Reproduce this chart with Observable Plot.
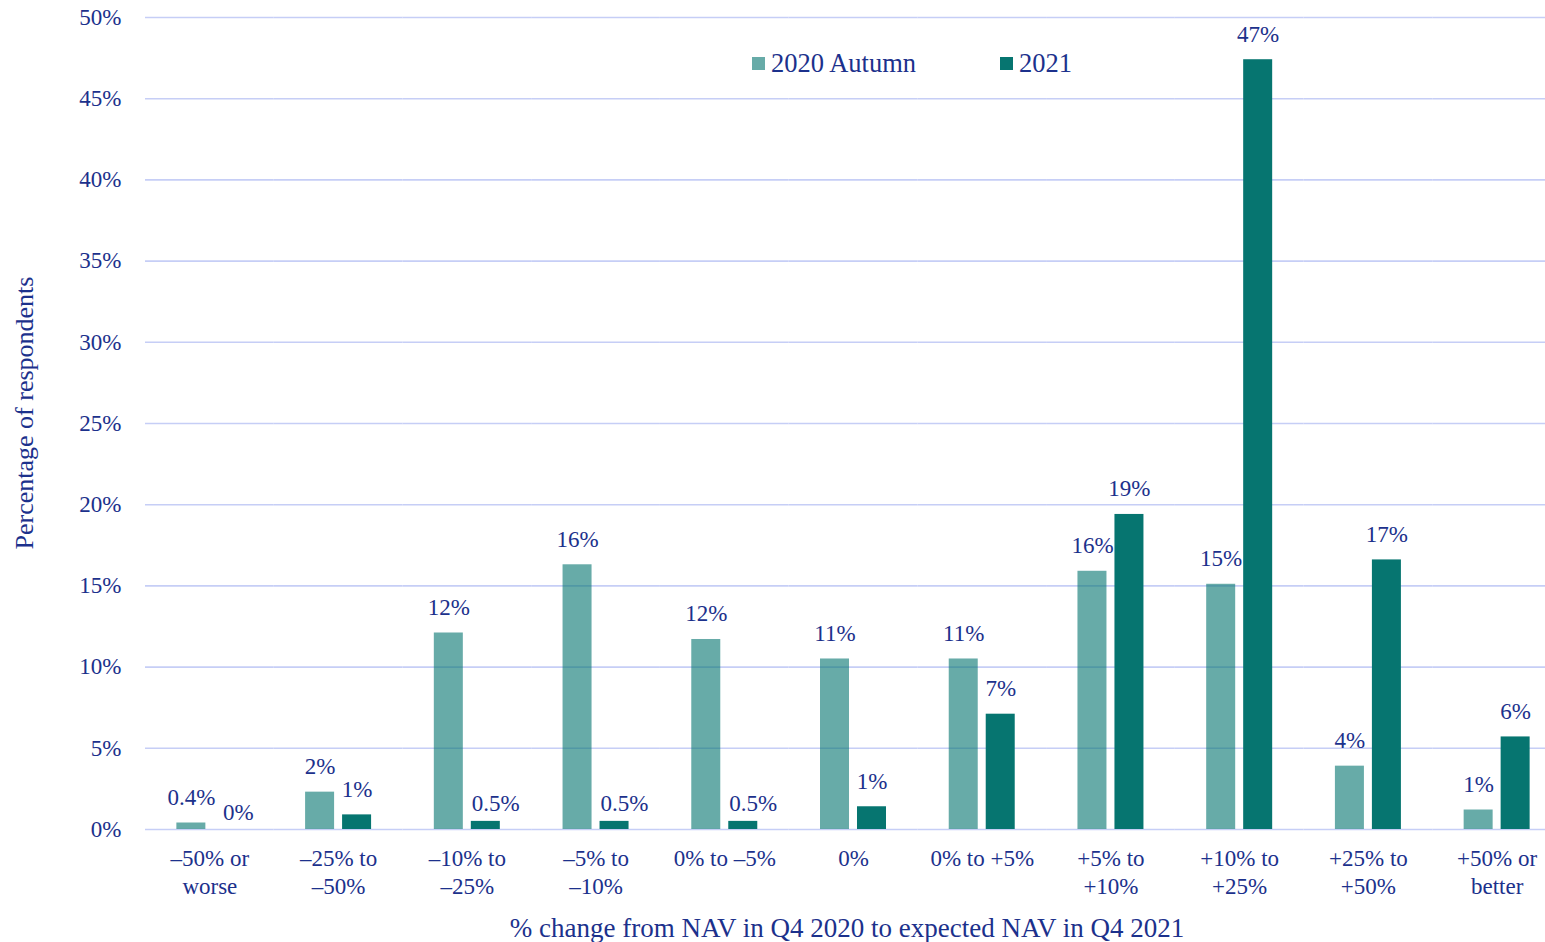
<!DOCTYPE html>
<html>
<head>
<meta charset="utf-8">
<script src="https://cdn.jsdelivr.net/npm/d3@7"></script>
<script src="https://cdn.jsdelivr.net/npm/@observablehq/plot@0.6"></script>
<style>
  html, body { margin: 0; padding: 0; background: #fff; }
  #wrap { position: relative; width: 1545px; height: 942px; overflow: hidden; font-family: "Liberation Serif", "Times New Roman", serif; color: #1c318c; }
  #wrap svg { position: absolute; left: 0; top: 0; max-width: none !important; }
  .legend { position: absolute; top: 48px; display: flex; align-items: center; font-size: 26.5px; line-height: 30px; }
  .sw { width: 13px; height: 13px; margin-right: 6px; }
  #ytitle { position: absolute; left: 25px; top: 413px; transform: translate(-50%, -50%) rotate(-90deg); font-size: 26px; white-space: nowrap; }
  #xtitle { position: absolute; left: 847px; top: 928px; transform: translate(-50%, -50%); font-size: 27px; white-space: nowrap; }
</style>
</head>
<body>
<div id="wrap"></div>
<script>
const categories = ["–50% or worse", "–25% to –50%", "–10% to –25%", "–5% to –10%", "0% to –5%", "0%", "0% to +5%", "+5% to +10%", "+10% to +25%", "+25% to +50%", "+50% or better"];
const tickLabels = ["–50% or\nworse", "–25% to\n–50%", "–10% to\n–25%", "–5% to\n–10%", "0% to –5%", "0%", "0% to +5%", "+5% to\n+10%", "+10% to\n+25%", "+25% to\n+50%", "+50% or\nbetter"];
const seriesNames = ["2020 Autumn", "2021"];
const values2020 = [0.4, 2.3, 12.1, 16.3, 11.7, 10.5, 10.5, 15.9, 15.1, 3.9, 1.2];
const values2021 = [0.0, 0.9, 0.5, 0.5, 0.5, 1.4, 7.1, 19.4, 47.4, 16.6, 5.7];
const labels2020 = ["0.4%", "2%", "12%", "16%", "12%", "11%", "11%", "16%", "15%", "4%", "1%"];
const labels2021 = ["0%", "1%", "0.5%", "0.5%", "0.5%", "1%", "7%", "19%", "47%", "17%", "6%"];
const yTicks = [0, 5, 10, 15, 20, 25, 30, 35, 40, 45, 50];

const textColor = "#1c318c";
const gridColor = "#c6cef6";
const darkTeal = "#067570";

const data = [];
categories.forEach((c, i) => {
  data.push({cat: c, series: seriesNames[0], value: values2020[i], label: labels2020[i]});
  data.push({cat: c, series: seriesNames[1], value: values2021[i], label: labels2021[i]});
});
const tickMap = new Map(categories.map((c, i) => [c, tickLabels[i]]));
const isTiny = d => d.series === seriesNames[1] && d.value < 0.8;

const chart = Plot.plot({
  width: 1561,
  height: 942,
  marginLeft: 145,
  marginRight: 0,
  marginTop: 17,
  marginBottom: 113,
  style: {fontFamily: "'Liberation Serif', 'Times New Roman', serif", fontSize: "23px", color: textColor, background: "transparent", overflow: "visible", maxWidth: "none"},
  fx: {domain: categories, padding: 0, round: false, label: null},
  x: {domain: seriesNames, paddingInner: 0.216, paddingOuter: 0.848, round: false, axis: null},
  y: {domain: [0, 50], axis: null},
  marks: [
    Plot.ruleY(yTicks, {stroke: gridColor, strokeWidth: 1.6}),
    Plot.barY(data, {fx: "cat", x: "series", y: "value", fill: darkTeal,
      fillOpacity: d => d.series === seriesNames[0] ? 0.61 : 1}),
    Plot.text(data.filter(d => !isTiny(d)), {fx: "cat", x: "series", y: "value", text: "label", lineAnchor: "bottom", dy: -18,
      fill: textColor, fontSize: 23}),
    Plot.text(data.filter(isTiny), {fx: "cat", x: "series", y: "value", text: "label", lineAnchor: "bottom", dy: -10, dx: 10,
      fill: textColor, fontSize: 23}),
    Plot.axisY({ticks: yTicks, tickFormat: d => d + "%", tickSize: 0, tickPadding: 24, fontSize: 23, label: null, fill: textColor, facetAnchor: "left"}),
    Plot.axisFx({anchor: "bottom", tickFormat: d => tickMap.get(d), tickSize: 0, tickPadding: 17, fontSize: 23, lineHeight: 1.22, label: null, fill: textColor})
  ]
});

const wrap = document.getElementById("wrap");
wrap.appendChild(chart);

const leg1 = document.createElement("div");
leg1.className = "legend";
leg1.style.left = "752px";
leg1.innerHTML = `<span class="sw" style="background:${darkTeal};opacity:0.61"></span><span>${seriesNames[0]}</span>`;
wrap.appendChild(leg1);
const leg2 = document.createElement("div");
leg2.className = "legend";
leg2.style.left = "1000px";
leg2.innerHTML = `<span class="sw" style="background:${darkTeal}"></span><span>${seriesNames[1]}</span>`;
wrap.appendChild(leg2);

const yt = document.createElement("div");
yt.id = "ytitle";
yt.textContent = "Percentage of respondents";
wrap.appendChild(yt);
const xt = document.createElement("div");
xt.id = "xtitle";
xt.textContent = "% change from NAV in Q4 2020 to expected NAV in Q4 2021";
wrap.appendChild(xt);
</script>
</body>
</html>
